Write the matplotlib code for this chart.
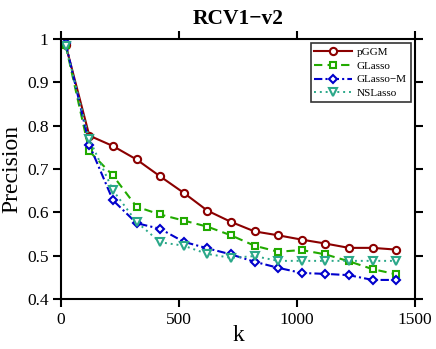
import matplotlib
matplotlib.use("Agg")
import matplotlib.pyplot as plt

k = [20, 120, 220, 320, 420, 520, 620, 720, 820, 920, 1020, 1120, 1220, 1320, 1420]
pggm = [0.986, 0.777, 0.753, 0.722, 0.683, 0.645, 0.604, 0.578, 0.556, 0.547, 0.537, 0.528, 0.518, 0.518, 0.514]
glasso = [0.985, 0.741, 0.685, 0.613, 0.595, 0.581, 0.567, 0.547, 0.523, 0.509, 0.513, 0.503, 0.487, 0.469, 0.457]
glasso_m = [0.990, 0.756, 0.628, 0.575, 0.562, 0.532, 0.517, 0.503, 0.486, 0.472, 0.460, 0.458, 0.455, 0.444, 0.444]
nslasso = [0.983, 0.769, 0.651, 0.578, 0.531, 0.523, 0.504, 0.495, 0.499, 0.488, 0.488, 0.488, 0.488, 0.488, 0.488]

xticks = [0, 500, 1000, 1500]
yticks = [0.4, 0.5, 0.6, 0.7, 0.8, 0.9, 1.0]
yticklabels = ["0.4", "0.5", "0.6", "0.7", "0.8", "0.9", "1"]

plt.rcParams['font.family'] = ['Liberation Serif', 'DejaVu Serif']

fig = plt.figure(figsize=(4.36, 3.49), dpi=100)
ax = fig.add_axes([61/436, 1-299/349, (415-61)/436, (299-39)/349])

ax.plot(k, pggm, color='#8b0000', linestyle='-', linewidth=1.5, marker='o',
        markersize=5.2, markerfacecolor='white', markeredgewidth=1.5, label='pGGM')
ax.plot(k, glasso, color='#22aa00', linestyle=(0, (4, 2.5)), linewidth=1.5, marker='s',
        markersize=4.5, markerfacecolor='white', markeredgewidth=1.5, label='GLasso')
ax.plot(k, glasso_m, color='#0000cc', linestyle=(0, (4, 1.5, 1, 1.5)), linewidth=1.5, marker='D',
        markersize=4.5, markerfacecolor='white', markeredgewidth=1.5, label='GLasso\u2212M')
ax.plot(k, nslasso, color='#2ba889', linestyle=(0, (1, 2)), linewidth=1.4, marker='v',
        markersize=6, markerfacecolor='white', markeredgewidth=1.5, label='NSLasso')

ax.set_xlim(0, 1500)
ax.set_ylim(0.4, 1.0)
ax.set_xticks(xticks)
ax.set_yticks(yticks)
ax.set_yticklabels(yticklabels)
ax.tick_params(direction='out', length=6, width=1.5, labelsize=12.5,
               top=True, right=True, labeltop=False, labelright=False, pad=3)
for s in ax.spines.values():
    s.set_linewidth(1.5)

ax.set_title('RCV1\u2212v2', fontsize=15.5, fontweight='bold', pad=11)
ax.set_xlabel('k', fontsize=17, labelpad=-2)
ax.set_ylabel('Precision', fontsize=17, labelpad=3)

leg = ax.legend(loc='upper right', fontsize=8, frameon=True, fancybox=False,
                edgecolor='black', handlelength=3.4, borderpad=0.35,
                labelspacing=0.35, handletextpad=0.4, borderaxespad=0.4)
leg.get_frame().set_linewidth(1.2)

fig.savefig('out.png', dpi=100)
